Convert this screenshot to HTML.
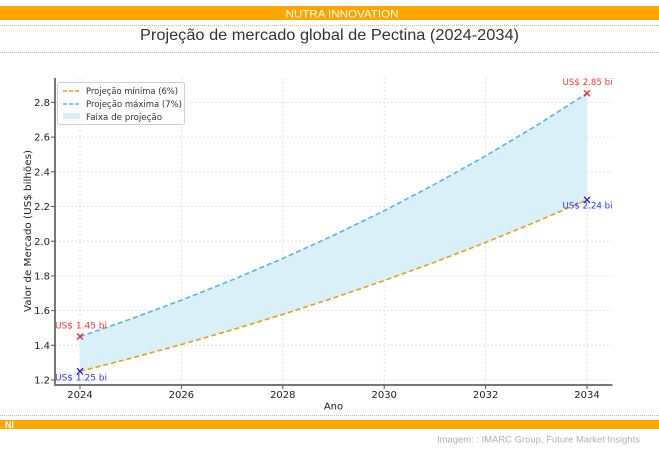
<!DOCTYPE html>
<html><head><meta charset="utf-8"><style>
html,body{margin:0;padding:0;background:#fff;}
svg{display:block;}
</style></head><body>
<svg width="659" height="455" viewBox="0 0 659 455" xmlns="http://www.w3.org/2000/svg">
<rect width="659" height="455" fill="#fff"/>
<!-- header -->
<rect x="0" y="6" width="659" height="14" fill="#FFA500"/>
<text x="342" y="17.5" font-family="Liberation Sans, sans-serif" font-size="11" fill="#fff" text-anchor="middle" textLength="113" lengthAdjust="spacingAndGlyphs">NUTRA INNOVATION</text>
<line x1="0" y1="25.5" x2="659" y2="25.5" stroke="#bbb" stroke-width="1" stroke-dasharray="1,1"/>
<text x="329.5" y="40" font-family="Liberation Sans, sans-serif" font-size="16" fill="#333" text-anchor="middle" textLength="379" lengthAdjust="spacingAndGlyphs">Projeção de mercado global de Pectina (2024-2034)</text>
<line x1="0" y1="52.5" x2="659" y2="52.5" stroke="#bbb" stroke-width="1" stroke-dasharray="1,1"/>

<!-- grid -->
<g stroke="#dcdcdc" stroke-width="0.8" stroke-dasharray="2,2">
<line x1="55" y1="380" x2="612" y2="380"/>
<line x1="55" y1="345.3" x2="612" y2="345.3"/>
<line x1="55" y1="310.6" x2="612" y2="310.6"/>
<line x1="55" y1="275.9" x2="612" y2="275.9"/>
<line x1="55" y1="241.2" x2="612" y2="241.2"/>
<line x1="55" y1="206.5" x2="612" y2="206.5"/>
<line x1="55" y1="171.8" x2="612" y2="171.8"/>
<line x1="55" y1="137.1" x2="612" y2="137.1"/>
<line x1="55" y1="102.4" x2="612" y2="102.4"/>
<line x1="80" y1="78" x2="80" y2="385"/>
<line x1="181.4" y1="78" x2="181.4" y2="385"/>
<line x1="282.8" y1="78" x2="282.8" y2="385"/>
<line x1="384.2" y1="78" x2="384.2" y2="385"/>
<line x1="485.6" y1="78" x2="485.6" y2="385"/>
<line x1="587" y1="78" x2="587" y2="385"/>
</g>

<!-- fill -->
<polygon fill="#d6eef8" fill-opacity="0.9" points="80,336.6 130.7,319.0 181.4,300.2 232.1,280.0 282.8,258.4 333.5,235.4 384.2,210.7 434.9,184.2 485.6,155.9 536.3,125.7 587,93.3 587,199.8 536.3,221.8 485.6,242.5 434.9,262.1 384.2,280.6 333.5,298.0 282.8,314.4 232.1,329.9 181.4,344.5 130.7,358.3 80,371.3"/>

<!-- lines -->
<polyline fill="none" stroke="#5bb4e5" stroke-width="1.6" stroke-dasharray="5,3" points="80,336.6 130.7,319.0 181.4,300.2 232.1,280.0 282.8,258.4 333.5,235.4 384.2,210.7 434.9,184.2 485.6,155.9 536.3,125.7 587,93.3"/>
<polyline fill="none" stroke="#e3a414" stroke-width="1.6" stroke-dasharray="5,3" points="80,371.3 130.7,358.3 181.4,344.5 232.1,329.9 282.8,314.4 333.5,298.0 384.2,280.6 434.9,262.1 485.6,242.5 536.3,221.8 587,199.8"/>

<!-- markers -->
<g stroke="#ff1a1a" stroke-width="1.3">
<line x1="77" y1="333.6" x2="83" y2="339.6"/><line x1="77" y1="339.6" x2="83" y2="333.6"/>
<line x1="584" y1="90.3" x2="590" y2="96.3"/><line x1="584" y1="96.3" x2="590" y2="90.3"/>
</g>
<g stroke="#1a1aee" stroke-width="1.3">
<line x1="77" y1="368.3" x2="83" y2="374.3"/><line x1="77" y1="374.3" x2="83" y2="368.3"/>
<line x1="584" y1="196.8" x2="590" y2="202.8"/><line x1="584" y1="202.8" x2="590" y2="196.8"/>
</g>

<!-- annotations -->
<g font-family="DejaVu Sans, sans-serif" font-size="9" text-anchor="middle">
<text x="81" y="328.5" fill="#ff3333" textLength="52" lengthAdjust="spacingAndGlyphs">US$ 1.45 bi</text>
<text x="587.5" y="85" fill="#ff3333" textLength="50" lengthAdjust="spacingAndGlyphs">US$ 2.85 bi</text>
<text x="81" y="380.5" fill="#3333ff" textLength="52" lengthAdjust="spacingAndGlyphs">US$ 1.25 bi</text>
<text x="587.5" y="208.5" fill="#3333ff" textLength="50" lengthAdjust="spacingAndGlyphs">US$ 2.24 bi</text>
</g>

<!-- spines -->
<line x1="55" y1="78" x2="55" y2="386" stroke="#777" stroke-width="2"/>
<line x1="54" y1="385" x2="612.5" y2="385" stroke="#777" stroke-width="2"/>
<!-- ticks -->
<g stroke="#555" stroke-width="1">
<line x1="51" y1="380" x2="55" y2="380"/>
<line x1="51" y1="345.3" x2="55" y2="345.3"/>
<line x1="51" y1="310.6" x2="55" y2="310.6"/>
<line x1="51" y1="275.9" x2="55" y2="275.9"/>
<line x1="51" y1="241.2" x2="55" y2="241.2"/>
<line x1="51" y1="206.5" x2="55" y2="206.5"/>
<line x1="51" y1="171.8" x2="55" y2="171.8"/>
<line x1="51" y1="137.1" x2="55" y2="137.1"/>
<line x1="51" y1="102.4" x2="55" y2="102.4"/>
<line x1="80" y1="385" x2="80" y2="389"/>
<line x1="181.4" y1="385" x2="181.4" y2="389"/>
<line x1="282.8" y1="385" x2="282.8" y2="389"/>
<line x1="384.2" y1="385" x2="384.2" y2="389"/>
<line x1="485.6" y1="385" x2="485.6" y2="389"/>
<line x1="587" y1="385" x2="587" y2="389"/>
</g>

<!-- tick labels -->
<g font-family="DejaVu Sans, sans-serif" font-size="10" fill="#222" text-anchor="end">
<text x="50" y="383.6">1.2</text>
<text x="50" y="348.9">1.4</text>
<text x="50" y="314.2">1.6</text>
<text x="50" y="279.5">1.8</text>
<text x="50" y="244.8">2.0</text>
<text x="50" y="210.1">2.2</text>
<text x="50" y="175.4">2.4</text>
<text x="50" y="140.7">2.6</text>
<text x="50" y="106">2.8</text>
</g>
<g font-family="DejaVu Sans, sans-serif" font-size="10" fill="#222" text-anchor="middle">
<text x="80" y="398">2024</text>
<text x="181.4" y="398">2026</text>
<text x="282.8" y="398">2028</text>
<text x="384.2" y="398">2030</text>
<text x="485.6" y="398">2032</text>
<text x="587" y="398">2034</text>
<text x="333.5" y="409.5">Ano</text>
<text transform="translate(31,231) rotate(-90)" textLength="162" lengthAdjust="spacingAndGlyphs">Valor de Mercado (US$ bilhões)</text>
</g>

<!-- legend -->
<rect x="57.5" y="82.5" width="127" height="42" rx="2" fill="#fff" fill-opacity="0.85" stroke="#d0d0d0" stroke-width="1"/>
<line x1="63" y1="91" x2="80" y2="91" stroke="#e3a414" stroke-width="1.5" stroke-dasharray="4,2"/>
<line x1="63" y1="104" x2="80" y2="104" stroke="#5bb4e5" stroke-width="1.5" stroke-dasharray="4,2"/>
<rect x="63" y="113" width="17" height="6" fill="#d6eef8"/>
<g font-family="DejaVu Sans, sans-serif" font-size="8.5" fill="#333">
<text x="86" y="94" textLength="92" lengthAdjust="spacingAndGlyphs">Projeção mínima (6%)</text>
<text x="86" y="107" textLength="96" lengthAdjust="spacingAndGlyphs">Projeção máxima (7%)</text>
<text x="86" y="120" textLength="76" lengthAdjust="spacingAndGlyphs">Faixa de projeção</text>
</g>

<!-- footer -->
<line x1="0" y1="415.5" x2="659" y2="415.5" stroke="#bbb" stroke-width="1" stroke-dasharray="1,1"/>
<rect x="0" y="420" width="659" height="9" fill="#FFA500"/>
<text x="5" y="428" font-family="Liberation Sans, sans-serif" font-size="9" font-weight="bold" fill="#fff">NI</text>
<text x="640" y="442.5" font-family="Liberation Sans, sans-serif" font-size="9.5" fill="#b0b0b0" text-anchor="end" textLength="203" lengthAdjust="spacingAndGlyphs">Imagem: : IMARC Group, Future Market Insights</text>
</svg>
</body></html>
